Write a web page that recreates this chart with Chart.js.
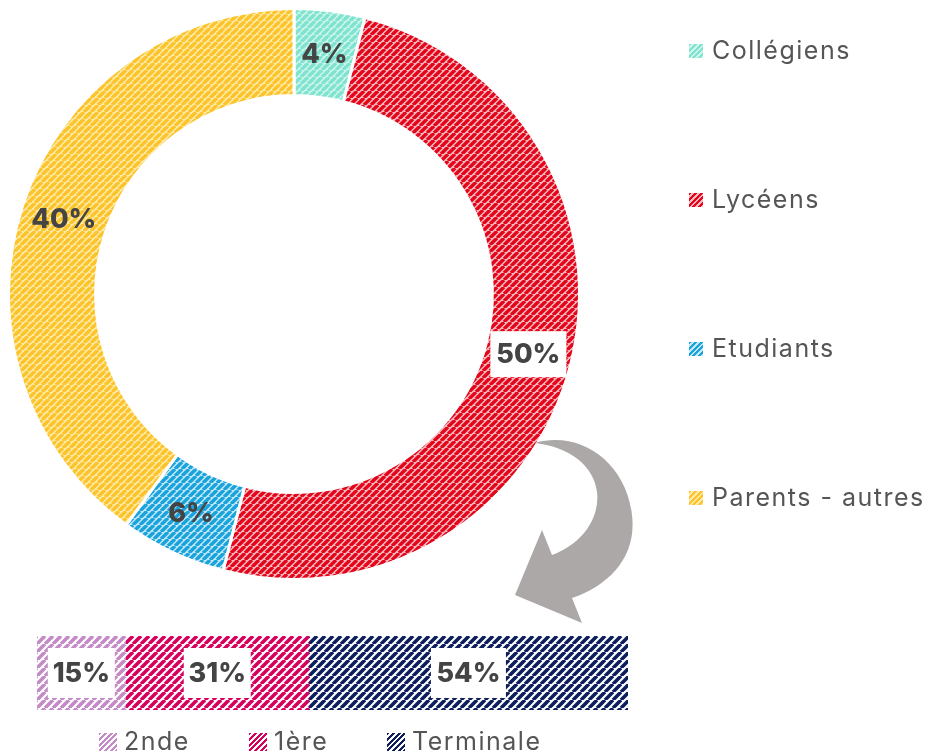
<!DOCTYPE html>
<html>
<head>
<meta charset="utf-8">
<script src="https://cdn.jsdelivr.net/npm/chart.js@4"></script>
<style>
  body { margin: 0; background: #fff; width: 933px; height: 754px; position: relative; overflow: hidden; font-family: 'Inter', 'Noto Sans', sans-serif; }
  #donutBox { position: absolute; left: 0; top: 0; width: 600px; height: 600px; }
  #barBox { position: absolute; left: 37px; top: 636px; width: 591px; height: 74px; }
  #arrow { position: absolute; left: 0; top: 0; }
  .legend-item { position: absolute; color: #555; font-size: 25px; letter-spacing: 1.5px; white-space: nowrap; line-height: 28px; }
  .sw { display: inline-block; width: 14px; height: 14px; margin-right: 9px; vertical-align: 1px; }
  .bsw { display: inline-block; width: 18px; height: 18px; margin-right: 7px; vertical-align: -1px; }
</style>
</head>
<body>
<div id="donutBox"><canvas id="donutChart"></canvas></div>
<div id="barBox"><canvas id="barChart"></canvas></div>
<svg id="arrow" width="933" height="754">
  <path d="M535,443 C580,430 626,462 632,515 C637,556 610,585 572,598 L582,623 L515,595 L542,530 L552,555 C585,543 600,515 597,492 C594,466 570,447 535,443 Z" fill="#aba8a7"/>
</svg>
<div id="legendRight"></div>
<div id="legendBar"></div>
<script>
// Données du graphique
const donutLabels = ['Collégiens', 'Lycéens', 'Etudiants', 'Parents - autres'];
const donutValues = [4, 50, 6, 40];
const barLabels = ['2nde', '1ère', 'Terminale'];
const barValues = [15, 31, 54];

// Couleurs (trait, fond) des hachures
const donutColors = [['#7fe3cf', '#cdf5ec'], ['#e3061b', '#f7b9c0'], ['#19a3dc', '#c3e7f6'], ['#fcc42a', '#feeaa8']];
const barColors = [['#c48bc6', '#ffffff'], ['#d5005e', '#ffffff'], ['#0c1f5c', '#ffffff']];
const donutBoxed = [false, true, false, false];

// Créer un motif hachuré "/"
function stripes(fg, bg, size, lw) {
    const c = document.createElement('canvas');
    c.width = size; c.height = size;
    const x = c.getContext('2d');
    x.fillStyle = bg;
    x.fillRect(0, 0, size, size);
    x.strokeStyle = fg;
    x.lineWidth = lw;
    x.beginPath();
    for (let k = -1; k <= 1; k++) {
        x.moveTo(k * size, size);
        x.lineTo(k * size + size, 0);
    }
    x.stroke();
    return x.createPattern(c, 'repeat');
}

function cssStripes(fg, bg, step) {
    return 'repeating-linear-gradient(135deg, ' + fg + ' 0 ' + step + 'px, ' + bg + ' ' + step + 'px ' + (step * 2) + 'px)';
}

// Étiquettes en pourcentage
function drawLabel(ctx, text, x, y, boxed, w, h) {
    ctx.save();
    ctx.font = '800 27px Inter, sans-serif';
    if (boxed) {
        ctx.fillStyle = '#fff';
        ctx.fillRect(x - w / 2, y - h / 2, w, h);
    }
    ctx.fillStyle = '#444';
    ctx.textAlign = 'center';
    ctx.textBaseline = 'middle';
    ctx.fillText(text, x, y + 1);
    ctx.restore();
}

const donutLabelPlugin = {
    id: 'donutLabels',
    afterDatasetsDraw(chart) {
        const ctx = chart.ctx;
        chart.getDatasetMeta(0).data.forEach((arc, i) => {
            const p = arc.tooltipPosition();
            drawLabel(ctx, donutValues[i] + '%', p.x, p.y, donutBoxed[i], 76, 46);
        });
    }
};

const barLabelPlugin = {
    id: 'barLabels',
    afterDatasetsDraw(chart) {
        const ctx = chart.ctx;
        chart.data.datasets.forEach((ds, i) => {
            const bar = chart.getDatasetMeta(i).data[0];
            const x = (bar.x + bar.base) / 2;
            drawLabel(ctx, barValues[i] + '%', x, bar.y, true, i === 2 ? 75 : 67, 50);
        });
    }
};

new Chart(document.getElementById('donutChart'), {
    type: 'doughnut',
    data: {
        labels: donutLabels,
        datasets: [{
            data: donutValues,
            backgroundColor: donutColors.map(c => stripes(c[0], c[1], 7, 3.4)),
            borderColor: '#fff',
            borderWidth: 3
        }]
    },
    options: {
        responsive: true,
        maintainAspectRatio: false,
        animation: false,
        cutout: '69.5%',
        layout: { padding: { left: 7, top: 7, right: 19, bottom: 19 } },
        plugins: { legend: { display: false }, tooltip: { enabled: false } }
    },
    plugins: [donutLabelPlugin]
});

new Chart(document.getElementById('barChart'), {
    type: 'bar',
    data: {
        labels: [''],
        datasets: barLabels.map((label, i) => ({
            label: label,
            data: [barValues[i]],
            backgroundColor: stripes(barColors[i][0], barColors[i][1], 8, 3.6),
            borderWidth: 0,
            barPercentage: 1,
            categoryPercentage: 1
        }))
    },
    options: {
        indexAxis: 'y',
        responsive: true,
        maintainAspectRatio: false,
        animation: false,
        layout: { padding: 0 },
        scales: {
            x: { stacked: true, display: false, min: 0, max: 100 },
            y: { stacked: true, display: false }
        },
        plugins: { legend: { display: false }, tooltip: { enabled: false } }
    },
    plugins: [barLabelPlugin]
});

// Légendes HTML
const legendRight = document.getElementById('legendRight');
donutLabels.forEach((label, i) => {
    const d = document.createElement('div');
    d.className = 'legend-item';
    d.style.left = '689px';
    d.style.top = (36 + i * 149) + 'px';
    d.innerHTML = '<span class="sw" style="background:' + cssStripes(donutColors[i][0], donutColors[i][1], 2) + '"></span>' + label;
    legendRight.appendChild(d);
});

const legendBar = document.getElementById('legendBar');
const barLegendX = [99, 249, 387];
barLabels.forEach((label, i) => {
    const d = document.createElement('div');
    d.className = 'legend-item';
    d.style.left = barLegendX[i] + 'px';
    d.style.top = '727px';
    d.innerHTML = '<span class="bsw" style="background:' + cssStripes(barColors[i][0], barColors[i][1], 2) + '"></span>' + label;
    legendBar.appendChild(d);
});
</script>
</body>
</html>
